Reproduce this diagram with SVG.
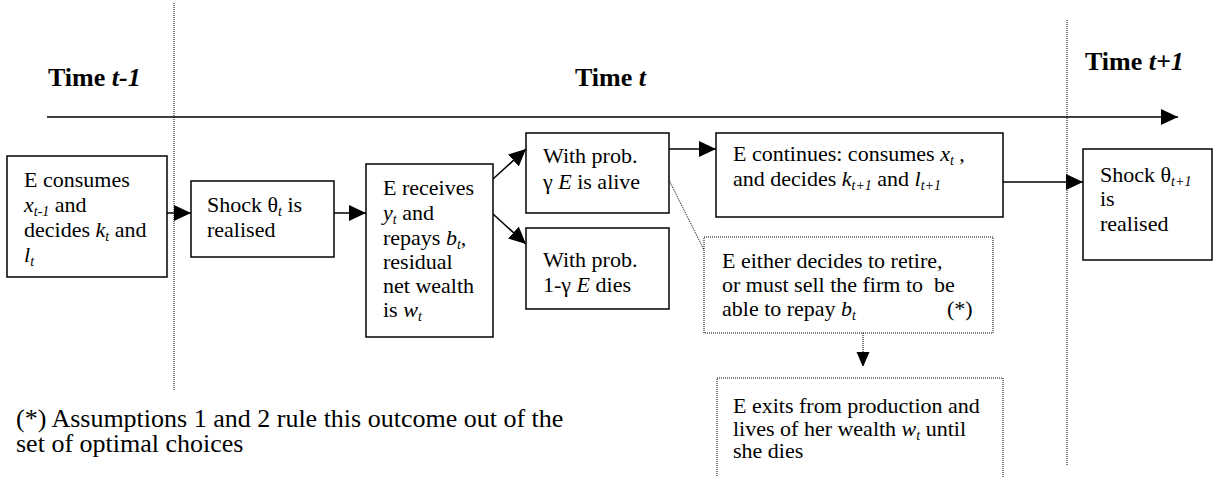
<svg xmlns="http://www.w3.org/2000/svg" width="1216" height="477" viewBox="0 0 1216 477">
<defs>
<marker id="ah" markerUnits="userSpaceOnUse" markerWidth="18" markerHeight="16" refX="17" refY="8" orient="auto"><path d="M0,0 L17,8 L0,16 Z" fill="#000"/></marker>
<marker id="ahs" markerUnits="userSpaceOnUse" markerWidth="14" markerHeight="16" refX="15" refY="6.5" orient="auto"><path d="M0,0 L15,6.5 L0,13 Z" fill="#000"/></marker>
</defs>
<style>
.box{fill:#fff;stroke:#000;stroke-width:1.5}
.dbox{fill:#fff;stroke:#000;stroke-width:1;stroke-dasharray:1 1}
text{font-family:'Liberation Serif','Times New Roman','DejaVu Serif',serif;fill:#000}
.t{font-size:22px}
.f{font-size:26px}
.h{font-size:26px;font-weight:bold}
.i{font-style:italic}
.s{font-size:14px;font-style:italic}
.c{stroke:#000;stroke-width:1.5;fill:none}
.d{stroke:#000;stroke-width:1;stroke-dasharray:1 1;fill:none}
</style>
<rect width="1216" height="477" fill="#fff"/>

<g id="titles">
<text class="h" x="48" y="86" font-family="Liberation Serif, serif">Time <tspan class="i">t-1</tspan></text>
<text class="h" x="575" y="86" font-family="Liberation Serif, serif">Time <tspan class="i">t</tspan></text>
<text class="h" x="1085" y="70" font-family="Liberation Serif, serif">Time <tspan class="i">t+1</tspan></text>
</g>

<g id="separators">
<path class="d" d="M174,3 V390"/>
<path class="d" d="M1067,20 V466"/>
</g>

<g id="connectors">
<path class="c" d="M47,117 H1178" marker-end="url(#ah)"/>
<path class="c" d="M167,213 H191" marker-end="url(#ah)"/>
<path class="c" d="M334,213 H366" marker-end="url(#ah)"/>
<path class="c" d="M493,179 L526,149" marker-end="url(#ah)"/>
<path class="c" d="M493,214 L526,244" marker-end="url(#ah)"/>
<path class="c" d="M669,149 H716" marker-end="url(#ah)"/>
<path class="c" d="M1003,182 H1083" marker-end="url(#ah)"/>
<path class="d" d="M669,180 L704,250"/>
<path class="d" d="M863,333 V367" marker-end="url(#ahs)"/>
</g>

<g id="n1">
<rect class="box" x="7" y="156" width="160" height="121"/>
<text class="t" x="24" y="187">E consumes</text>
<text class="t" x="24" y="212"><tspan class="i">x</tspan><tspan class="s" dy="4">t-1</tspan><tspan dy="-4"> and</tspan></text>
<text class="t" x="24" y="237">decides <tspan class="i">k</tspan><tspan class="s" dy="4">t</tspan><tspan dy="-4"> and</tspan></text>
<text class="t" x="24" y="262"><tspan class="i">l</tspan><tspan class="s" dy="4">t</tspan></text>
</g>

<g id="n2">
<rect class="box" x="191" y="181" width="143" height="76"/>
<text class="t" x="207" y="212">Shock θ<tspan class="s" dy="4">t</tspan><tspan dy="-4"> is</tspan></text>
<text class="t" x="207" y="237">realised</text>
</g>

<g id="n3">
<rect class="box" x="366" y="164" width="127" height="173"/>
<text class="t" x="383" y="195">E receives</text>
<text class="t" x="383" y="220"><tspan class="i">y</tspan><tspan class="s" dy="4">t</tspan><tspan dy="-4"> and</tspan></text>
<text class="t" x="383" y="245">repays <tspan class="i">b</tspan><tspan class="s" dy="4">t</tspan><tspan dy="-4">,</tspan></text>
<text class="t" x="383" y="269">residual</text>
<text class="t" x="383" y="293">net wealth</text>
<text class="t" x="383" y="317">is <tspan class="i">w</tspan><tspan class="s" dy="4">t</tspan></text>
</g>

<g id="n4">
<rect class="box" x="526" y="133" width="143" height="80"/>
<text class="t" x="543" y="163">With prob.</text>
<text class="t" x="543" y="189">γ <tspan class="i">E</tspan> is alive</text>
</g>

<g id="n5">
<rect class="box" x="526" y="228" width="143" height="81"/>
<text class="t" x="543" y="267">With prob.</text>
<text class="t" x="543" y="292">1-γ <tspan class="i">E</tspan> dies</text>
</g>

<g id="n6">
<rect class="box" x="716" y="133" width="287" height="84"/>
<text class="t" x="733" y="161">E continues: consumes <tspan class="i">x</tspan><tspan class="s" dy="4">t</tspan><tspan dy="-4"> ,</tspan></text>
<text class="t" x="733" y="186">and decides <tspan class="i">k</tspan><tspan class="s" dy="4">t+1</tspan><tspan dy="-4"> and </tspan><tspan class="i">l</tspan><tspan class="s" dy="4">t+1</tspan></text>
</g>

<g id="n7">
<rect class="box" x="1083" y="149" width="129" height="111"/>
<text class="t" x="1100" y="182">Shock θ<tspan class="s" dy="4">t+1</tspan></text>
<text class="t" x="1100" y="206">is</text>
<text class="t" x="1100" y="231">realised</text>
</g>

<g id="n8">
<rect class="dbox" x="704" y="237" width="289" height="96"/>
<text class="t" x="722" y="268">E either decides to retire,</text>
<text class="t" x="722" y="292">or must sell the firm to&#160; be</text>
<text class="t" x="722" y="316">able to repay <tspan class="i">b</tspan><tspan class="s" dy="4">t</tspan></text>
<text class="t" x="947" y="316">(*)</text>
</g>

<g id="n9">
<rect class="dbox" x="717" y="378" width="286" height="110"/>
<text class="t" x="733" y="413">E exits from production and</text>
<text class="t" x="733" y="436">lives of her wealth <tspan class="i">w</tspan><tspan class="s" dy="4">t</tspan><tspan dy="-4"> until</tspan></text>
<text class="t" x="733" y="458">she dies</text>
</g>

<g id="footnote">
<text class="f" x="16" y="427">(*) Assumptions 1 and 2 rule this outcome out of the</text>
<text class="f" x="16" y="452">set of optimal choices</text>
</g>
</svg>
